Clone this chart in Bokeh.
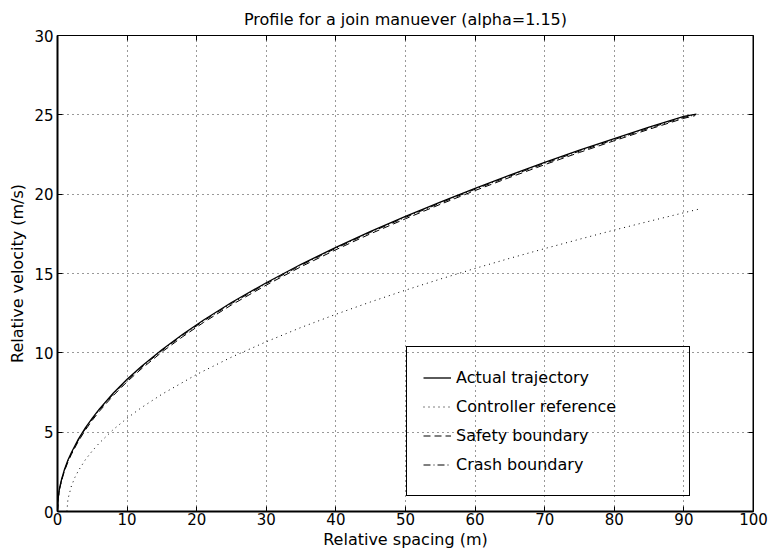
from bokeh.plotting import figure
from bokeh.models import Range1d, LinearAxis, FixedTicker, Legend, LegendItem, CustomJSTickFormatter
from bokeh.embed import file_html
from bokeh.resources import INLINE

title_text = "Profile for a join manuever (alpha=1.15)"
x_label = "Relative spacing (m)"
y_label = "Relative velocity (m/s)"
x_ticks = [0, 10, 20, 30, 40, 50, 60, 70, 80, 90, 100]
y_ticks = [0, 5, 10, 15, 20, 25, 30]

# Actual trajectory (solid)
actual_x = [0, 0.1, 0.3, 0.6, 1, 1.5, 2, 3, 4, 5, 6, 8, 10, 12, 15, 18, 21, 25, 30, 35,
            40, 45, 50, 55, 60, 65, 70, 75, 80, 85, 90, 91.8]
actual_v = [0, 0.9, 1.5, 2.05, 2.65, 3.25, 3.72, 4.56, 5.27, 5.89, 6.45, 7.45, 8.33, 9.12,
            10.2, 11.17, 12.07, 13.17, 14.42, 15.58, 16.65, 17.66, 18.6, 19.5, 20.37, 21.2,
            22.0, 22.77, 23.5, 24.22, 24.9, 25.05]

# Controller reference (dotted)
ref_x = [1.35, 1.5, 2, 2.5, 3, 4, 5, 6, 8, 10, 12, 15, 20, 25, 30, 35, 40, 45, 50, 55,
         60, 65, 70, 75, 80, 85, 90, 92]
ref_v = [0, 0.78, 1.61, 2.15, 2.57, 3.26, 3.82, 4.31, 5.16, 5.88, 6.53, 7.39, 8.64, 9.73,
         10.7, 11.6, 12.43, 13.21, 13.95, 14.65, 15.32, 15.96, 16.57, 17.16, 17.74, 18.29,
         18.83, 19.04]

# Safety boundary (dashed)
safety_x = [0, 0.1, 0.3, 0.6, 1, 1.5, 2, 3, 4, 5, 6, 8, 10, 12, 15, 18, 21, 25, 30, 35,
            40, 45, 50, 55, 60, 65, 70, 75, 80, 85, 90, 91.6]
safety_v = [0, 0.8, 1.4, 1.95, 2.55, 3.12, 3.6, 4.43, 5.13, 5.75, 6.31, 7.3, 8.18, 8.97,
            10.05, 11.02, 11.92, 13.02, 14.27, 15.43, 16.5, 17.51, 18.45, 19.36, 20.23,
            21.06, 21.86, 22.63, 23.37, 24.09, 24.78, 24.95]

# Crash boundary (dash-dot)
crash_x = [0, 0.1, 0.3, 0.6, 1, 1.5, 2, 3, 4, 5, 6, 8, 10, 12, 15, 18, 21, 25, 30, 35,
           40, 45, 50, 55, 60, 65, 70, 75, 80, 85, 90, 91.7]
crash_v = [0, 0.85, 1.45, 2.0, 2.6, 3.19, 3.66, 4.5, 5.21, 5.83, 6.39, 7.39, 8.27, 9.06,
           10.14, 11.11, 12.01, 13.11, 14.36, 15.52, 16.59, 17.6, 18.54, 19.44, 20.31,
           21.14, 21.94, 22.71, 23.44, 24.16, 24.84, 25.0]

FONT = "DejaVu Sans"

p = figure(width=768, height=553, x_range=Range1d(0, 100), y_range=Range1d(0, 30),
           output_backend="svg", toolbar_location=None,
           min_border_left=57, min_border_right=15, min_border_top=34, min_border_bottom=42,
           title=title_text)
p.background_fill_color = "white"
p.border_fill_color = "white"
p.outline_line_color = "black"
p.outline_line_width = 1

p.title.align = "center"
p.title.text_font = FONT
p.title.text_font_size = "16px"
p.title.text_font_style = "normal"
p.title.text_color = "black"
p.title.standoff = 14

for ax, ticks in ((p.xaxis[0], x_ticks), (p.yaxis[0], y_ticks)):
    ax.ticker = FixedTicker(ticks=ticks)
    ax.major_tick_in = 5
    ax.major_tick_out = 0
    ax.minor_tick_line_color = None
    ax.axis_line_width = 2
    ax.axis_line_color = "black"
    ax.major_tick_line_color = "black"
    ax.major_label_text_font = FONT
    ax.major_label_text_font_size = "15px"
    ax.major_label_text_color = "black"
    ax.axis_label_text_font = FONT
    ax.axis_label_text_font_size = "16px"
    ax.axis_label_text_font_style = "normal"
    ax.axis_label_text_color = "black"

p.xaxis[0].axis_label = x_label
p.xaxis[0].major_label_standoff = 1
p.xaxis[0].axis_label_standoff = 2
p.yaxis[0].axis_label = y_label
p.yaxis[0].major_label_standoff = 4
p.yaxis[0].axis_label_standoff = 4

empty_fmt = CustomJSTickFormatter(code="return ''")
top_ax = LinearAxis(fixed_location=30, ticker=FixedTicker(ticks=x_ticks), formatter=empty_fmt,
                    major_tick_in=5, major_tick_out=0, minor_tick_line_color=None,
                    axis_line_width=1, axis_line_color="black")
right_ax = LinearAxis(fixed_location=100, ticker=FixedTicker(ticks=y_ticks),
                      formatter=empty_fmt, major_tick_in=5, major_tick_out=0,
                      minor_tick_line_color=None, axis_line_width=2, axis_line_color="black")
p.add_layout(top_ax, "above")
p.add_layout(right_ax, "right")

p.xgrid.ticker = FixedTicker(ticks=x_ticks)
p.ygrid.ticker = FixedTicker(ticks=y_ticks)
for g in (p.xgrid[0], p.ygrid[0]):
    g.grid_line_color = "black"
    g.grid_line_dash = "1 4"
    g.grid_line_alpha = 0.8
    g.grid_line_width = 1

r_ref = p.line(ref_x, ref_v, line_color="black", line_width=1, line_dash="1 4")
r_safe = p.line(safety_x, safety_v, line_color="black", line_width=1, line_dash="7 4")
r_crash = p.line(crash_x, crash_v, line_color="black", line_width=1, line_dash="7 3 1 3")
r_act = p.line(actual_x, actual_v, line_color="black", line_width=1.3)

legend = Legend(items=[
    LegendItem(label="Actual trajectory", renderers=[r_act]),
    LegendItem(label="Controller reference", renderers=[r_ref]),
    LegendItem(label="Safety boundary", renderers=[r_safe]),
    LegendItem(label="Crash boundary", renderers=[r_crash]),
], location=(349, 15), margin=0, padding=16, spacing=0,
    label_height=29, glyph_height=29, glyph_width=28, label_standoff=5, label_width=217,
    label_text_font=FONT, label_text_font_size="16px", label_text_color="black",
    border_line_color="black", border_line_width=1.5, border_line_alpha=1.0,
    background_fill_alpha=0)
p.add_layout(legend, "center")

open("out.html", "w").write(file_html(p, INLINE))
